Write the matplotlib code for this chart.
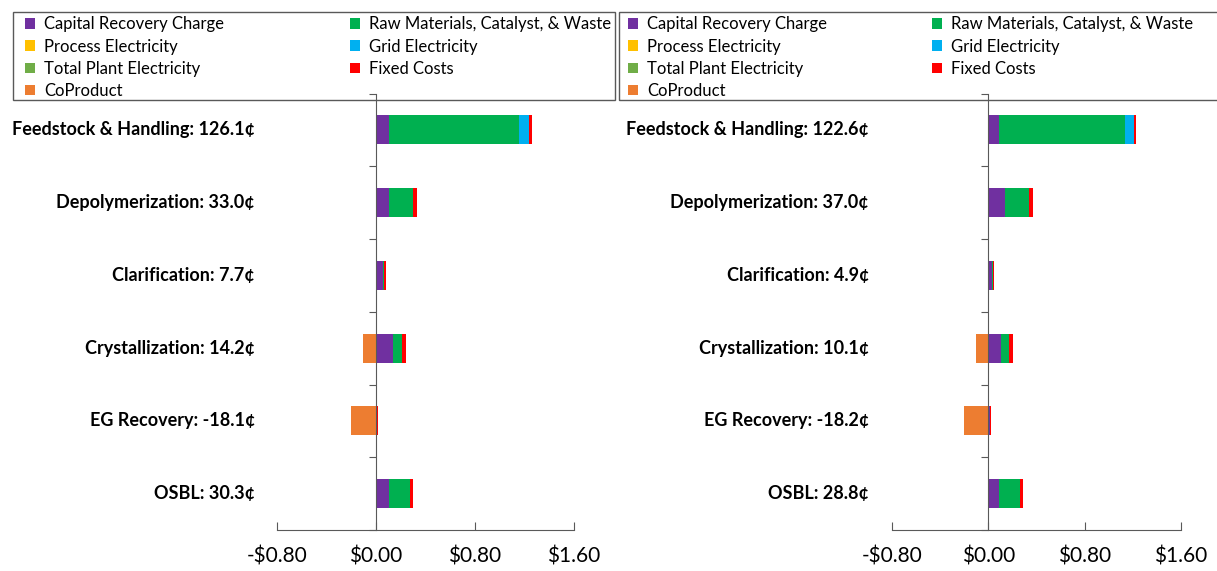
import matplotlib.pyplot as plt
from matplotlib.patches import Patch, Rectangle

plt.rcParams['font.family'] = ['Lato', 'DejaVu Sans']

# categories (top to bottom)
labels_a = ["Feedstock & Handling: 126.1¢", "Depolymerization: 33.0¢", "Clarification: 7.7¢",
            "Crystallization: 14.2¢", "EG Recovery: -18.1¢", "OSBL: 30.3¢"]
labels_b = ["Feedstock & Handling: 122.6¢", "Depolymerization: 37.0¢", "Clarification: 4.9¢",
            "Crystallization: 10.1¢", "EG Recovery: -18.2¢", "OSBL: 28.8¢"]

# cost components, $ per unit
capital_a = [0.108, 0.105, 0.054, 0.137, 0.012, 0.105]
raw_a = [1.048, 0.197, 0.011, 0.073, 0.0, 0.170]
procelec_a = [0.0, 0.0, 0.0, 0.0, 0.0, 0.0]
grid_a = [0.078, 0.0, 0.0, 0.0, 0.0, 0.0]
plantelec_a = [0.0, 0.0, 0.0, 0.0, 0.0, 0.0]
fixed_a = [0.027, 0.028, 0.012, 0.036, 0.007, 0.028]
coproduct_a = [0.0, 0.0, 0.0, -0.104, -0.200, 0.0]

capital_b = [0.085, 0.140, 0.031, 0.105, 0.012, 0.091]
raw_b = [1.050, 0.200, 0.006, 0.070, 0.0, 0.175]
procelec_b = [0.0, 0.0, 0.0, 0.0, 0.0, 0.0]
grid_b = [0.075, 0.0, 0.0, 0.0, 0.0, 0.0]
plantelec_b = [0.0, 0.0, 0.0, 0.0, 0.0, 0.0]
fixed_b = [0.016, 0.030, 0.012, 0.026, 0.006, 0.022]
coproduct_b = [0.0, 0.0, 0.0, -0.100, -0.200, 0.0]

xticks = [-0.8, 0.0, 0.8, 1.6]
xticklabels = ["-$0.80", "$0.00", "$0.80", "$1.60"]

colors = {
    "Capital Recovery Charge": "#7030A0",
    "Raw Materials, Catalyst, & Waste": "#00B050",
    "Process Electricity": "#FFC000",
    "Grid Electricity": "#00B0F0",
    "Total Plant Electricity": "#70AD47",
    "Fixed Costs": "#FF0000",
    "CoProduct": "#ED7D31",
}
legend_order = ["Capital Recovery Charge", "Process Electricity", "Total Plant Electricity", "CoProduct",
                "Raw Materials, Catalyst, & Waste", "Grid Electricity", "Fixed Costs"]

W, H = 1217, 571
fig = plt.figure(figsize=(W / 100, H / 100), dpi=100)

spine_col = "#595959"


def px(x0, y0, x1, y1):
    # pixel box (top-left origin) -> figure fraction rect
    return (x0 / W, 1 - y1 / H, (x1 - x0) / W, (y1 - y0) / H)


def draw(rect, labels, series, label_x, frame_box, legend_box):
    # legend frame + legend
    fx, fy, fw, fh = px(*frame_box)
    fig.patches.append(Rectangle((fx, fy), fw, fh, transform=fig.transFigure, fill=False,
                                 edgecolor=spine_col, linewidth=1.0, zorder=1))
    handles = [Patch(facecolor=colors[n], edgecolor='none') for n in legend_order]
    fig.legend(handles, legend_order, ncol=2, loc='upper left', bbox_to_anchor=px(*legend_box),
               mode='expand', fontsize=12, frameon=False, handlelength=0.6, handleheight=0.6,
               handletextpad=0.55, labelspacing=0.37, borderpad=0, borderaxespad=0)

    ax = fig.add_axes(rect)
    ax.set_zorder(10)
    ax.patch.set_alpha(0)
    y = list(range(len(labels)))
    left = [0.0] * len(labels)
    for name, vals in series[:-1]:
        ax.barh(y, vals, left=left, height=0.4, color=colors[name], zorder=2)
        left = [l + v for l, v in zip(left, vals)]
    name, vals = series[-1]
    ax.barh(y, vals, left=0, height=0.4, color=colors[name], zorder=2)

    ax.set_xlim(-0.8, 1.6)
    ax.set_ylim(5.5, -0.5)
    ax.set_xticks(xticks)
    ax.set_xticklabels(xticklabels, fontsize=15)
    ax.tick_params(axis='x', direction='in', length=6, color=spine_col, pad=12)
    ax.set_yticks([i + 0.5 for i in range(-1, 6)])
    ax.set_yticklabels([])
    ax.tick_params(axis='y', direction='out', length=5, color=spine_col)
    for s in ["top", "right"]:
        ax.spines[s].set_visible(False)
    ax.spines["left"].set_position(("data", 0))
    ax.spines["left"].set_color(spine_col)
    ax.spines["left"].set_zorder(3)
    ax.spines["bottom"].set_color(spine_col)
    for i, lab in enumerate(labels):
        ax.text(label_x, i, lab, transform=ax.get_yaxis_transform(), ha='right', va='center',
                fontsize=13, fontweight='bold')
    return ax


series_a = [("Capital Recovery Charge", capital_a), ("Raw Materials, Catalyst, & Waste", raw_a),
            ("Process Electricity", procelec_a), ("Grid Electricity", grid_a),
            ("Total Plant Electricity", plantelec_a), ("Fixed Costs", fixed_a), ("CoProduct", coproduct_a)]
series_b = [("Capital Recovery Charge", capital_b), ("Raw Materials, Catalyst, & Waste", raw_b),
            ("Process Electricity", procelec_b), ("Grid Electricity", grid_b),
            ("Total Plant Electricity", plantelec_b), ("Fixed Costs", fixed_b), ("CoProduct", coproduct_b)]

draw([277 / W, 1 - 530 / H, 297 / W, 436.5 / H], labels_a, series_a, -22 / 297,
     (13, 12, 615, 100), (25, 16.5, 611, 99))
draw([892 / W, 1 - 530 / H, 289 / W, 436.5 / H], labels_b, series_b, -23 / 289,
     (619, 12, 1240, 100), (628, 16.5, 1193, 99))

fig.savefig("out.png", dpi=100)
